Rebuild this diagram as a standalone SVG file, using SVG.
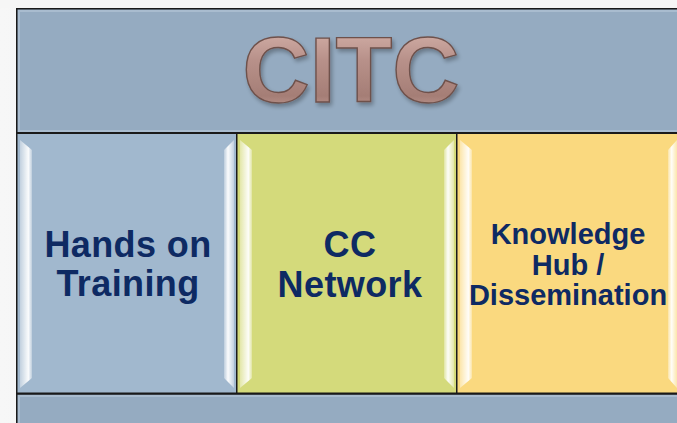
<svg xmlns="http://www.w3.org/2000/svg" width="677" height="423" viewBox="0 0 677 423">
<defs>
<linearGradient id="bg" x1="0" y1="0" x2="1" y2="0">
<stop offset="0" stop-color="#f7f7f7"/><stop offset="1" stop-color="#e2e4e8"/>
</linearGradient>
<linearGradient id="citc" x1="0" y1="0" x2="0" y2="1">
<stop offset="0" stop-color="#dcbab2"/><stop offset="0.4" stop-color="#b8918a"/><stop offset="0.75" stop-color="#a57e76"/><stop offset="1" stop-color="#d0aca4"/>
</linearGradient>
<linearGradient id="hl" x1="0" y1="0" x2="1" y2="0">
<stop offset="0" stop-color="#ffffff" stop-opacity="0.35"/><stop offset="0.7" stop-color="#ffffff" stop-opacity="0.95"/><stop offset="1" stop-color="#ffffff" stop-opacity="0.3"/>
</linearGradient>
<linearGradient id="hr" x1="1" y1="0" x2="0" y2="0">
<stop offset="0" stop-color="#ffffff" stop-opacity="0.35"/><stop offset="0.6" stop-color="#ffffff" stop-opacity="0.95"/><stop offset="1" stop-color="#ffffff" stop-opacity="0.3"/>
</linearGradient>
<filter id="sh" x="-10%" y="-10%" width="120%" height="130%">
<feGaussianBlur in="SourceAlpha" stdDeviation="2"/><feOffset dx="2" dy="3"/>
<feComponentTransfer><feFuncA type="linear" slope="0.3"/></feComponentTransfer>
<feMerge><feMergeNode/><feMergeNode in="SourceGraphic"/></feMerge>
</filter>
</defs>
<style>
.box{stroke:#1a1a1a;stroke-width:1.5}
.lbl{font-family:"Liberation Sans",Arial,sans-serif;font-weight:bold;fill:#0e2a63;text-anchor:middle}
.big{font-size:36px;letter-spacing:0.4px}
.sm{font-size:29px}
</style>
<rect x="0" y="0" width="677" height="423" fill="url(#bg)"/>
<rect x="0" y="0" width="677" height="8" fill="#f6f6f6"/>
<g id="banner">
<rect class="box" x="16.75" y="8.75" width="670" height="124" fill="#95abc1"/>
<rect x="19" y="11" width="665" height="120" fill="none" stroke="#a9bccf" stroke-width="2"/>
<text x="351" y="102" font-family="'Liberation Sans',Arial,sans-serif" font-weight="bold" font-size="93" text-anchor="middle" fill="url(#citc)" stroke="#6e514b" stroke-width="1.4" filter="url(#sh)">CITC</text>
</g>
<g id="node1">
<rect class="box" x="16.75" y="133.25" width="220" height="260" fill="#a1b8ce"/>
<polygon points="20,140 32,150 32,378 20,388" fill="url(#hl)"/>
<polygon points="234,140 224,150 224,378 234,388" fill="url(#hr)"/>
<text class="lbl big" x="128" y="257">Hands on</text>
<text class="lbl big" x="128" y="296">Training</text>
</g>
<g id="node2">
<rect class="box" x="236.75" y="133.25" width="220" height="260" fill="#d4da7b"/>
<polygon points="240,140 252,150 252,378 240,388" fill="url(#hl)"/>
<polygon points="454,140 444,150 444,378 454,388" fill="url(#hr)"/>
<text class="lbl big" x="350" y="257">CC</text>
<text class="lbl big" x="350" y="297">Network</text>
</g>
<g id="node3">
<rect class="box" x="456.75" y="133.25" width="230" height="260" fill="#fad97f"/>
<polygon points="460,140 472,150 472,378 460,388" fill="url(#hl)"/>
<polygon points="677,140 668,150 668,378 677,388" fill="url(#hr)"/>
<text class="lbl sm" x="568" y="244">Knowledge</text>
<text class="lbl sm" x="568" y="275">Hub /</text>
<text class="lbl sm" x="568" y="305">Dissemination</text>
</g>
<g id="bottom">
<rect class="box" x="16.75" y="394" width="670" height="40" fill="#95abc1"/>
<rect x="19" y="396" width="665" height="40" fill="none" stroke="#a9bccf" stroke-width="2"/>
</g>
<g id="connectors"/>
</svg>
